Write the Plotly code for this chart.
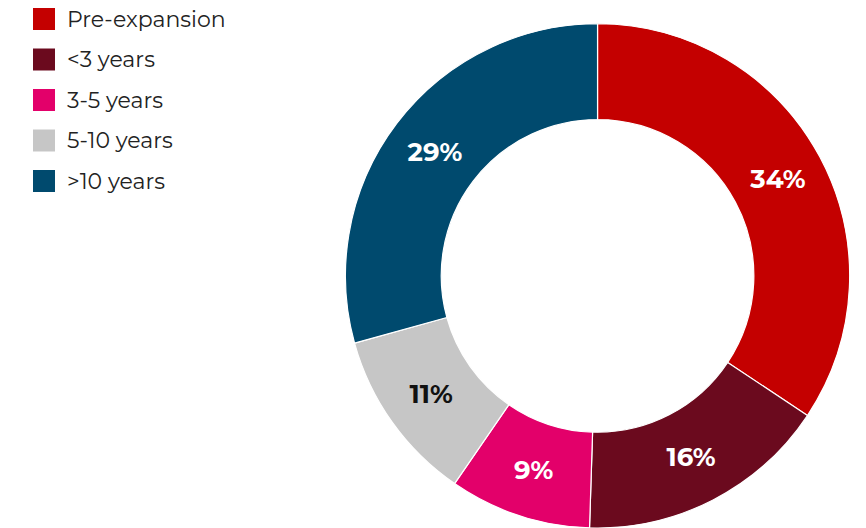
import plotly.graph_objects as go

# Share of companies by time since expansion (percent)
categories = ["Pre-expansion", "<3 years", "3-5 years", "5-10 years", ">10 years"]
shares = [34, 16, 9, 11, 29]
colors = ["#C40000", "#6B0A1E", "#E3006A", "#C6C6C6", "#004A6E"]
label_colors = ["#FFFFFF", "#FFFFFF", "#FFFFFF", "#111111", "#FFFFFF"]

W, H = 866, 528
FONT = "Montserrat, Inter, 'Open Sans', sans-serif"

fig = go.Figure(
    go.Pie(
        labels=categories,
        values=shares,
        sort=False,
        direction="clockwise",
        rotation=0,
        hole=0.62,
        marker=dict(colors=colors, line=dict(color="#FFFFFF", width=1.2)),
        texttemplate="%{value}%",
        textposition="inside",
        insidetextorientation="horizontal",
        insidetextfont=dict(family=FONT, size=26, color=label_colors, weight="bold"),
        hoverinfo="label+value",
        showlegend=False,
        domain=dict(x=[0.38, 1.0], y=[0.0, 0.955]),
    )
)

# Legend: colour swatch plus label for each category
shapes, annotations = [], []
sw, row0, step, left = 22, 19, 40.5, 33
for i, (name, col) in enumerate(zip(categories, colors)):
    cy = row0 + i * step
    shapes.append(dict(
        type="rect", xref="paper", yref="paper",
        x0=left / W, x1=(left + sw) / W,
        y0=1 - (cy + sw / 2) / H, y1=1 - (cy - sw / 2) / H,
        fillcolor=col, line=dict(width=0),
    ))
    annotations.append(dict(
        text=name, xref="paper", yref="paper",
        x=65 / W, y=1 - cy / H, xanchor="left", yanchor="middle",
        showarrow=False, font=dict(family=FONT, size=22, color="#222222"),
    ))

fig.update_layout(
    width=W, height=H,
    margin=dict(l=0, r=0, t=0, b=0),
    paper_bgcolor="#FFFFFF",
    plot_bgcolor="#FFFFFF",
    shapes=shapes,
    annotations=annotations,
)

fig.write_html("out.html")
